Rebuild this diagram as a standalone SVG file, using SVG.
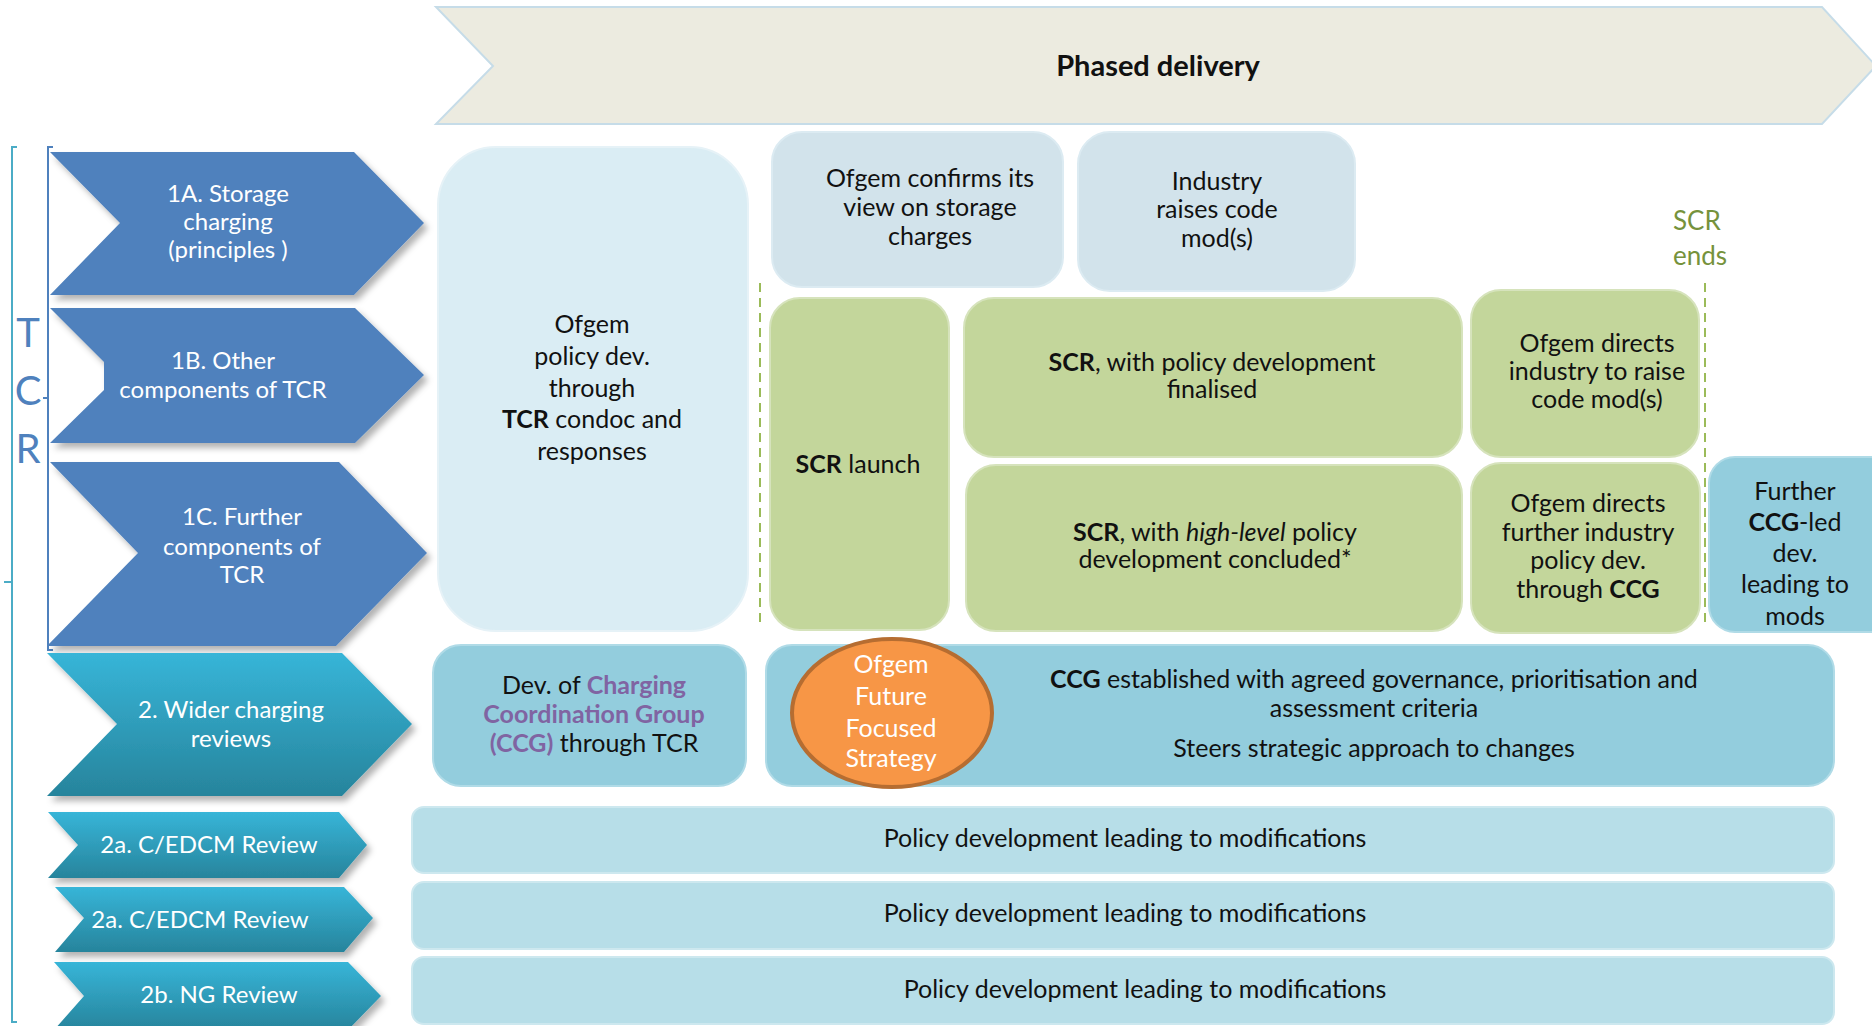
<svg xmlns="http://www.w3.org/2000/svg" width="1872" height="1026" viewBox="0 0 1872 1026">
  <defs>
    <linearGradient id="tealGrad" x1="0" y1="0" x2="0" y2="1">
      <stop offset="0" stop-color="#37b5d8"/>
      <stop offset="1" stop-color="#27849c"/>
    </linearGradient>
    <filter id="shadow" x="-10%" y="-10%" width="125%" height="130%">
      <feDropShadow dx="4" dy="5" stdDeviation="3" flood-color="#000" flood-opacity="0.3"/>
    </filter>
    <style>
      text { font-family: Lato, "Open Sans", "Liberation Sans", sans-serif; font-size: 25px; fill: #111; }
      .c { text-anchor: middle; }
      .w { fill: #ffffff; }
      .cw { font-size: 24px; }
      .b { font-weight: bold; }
      .i { font-style: italic; }
      .purple { fill: #8064a2; font-weight: bold; }
      .blue { fill: #4f81bd; }
      .chev-blue { fill: #4f81bd; filter: url(#shadow); }
      .chev-teal { fill: url(#tealGrad); filter: url(#shadow); }
      .pale { fill: #daedf4; stroke: #e6f2f7; stroke-width: 2; }
      .steel { fill: #d2e3eb; stroke: #dcebf2; stroke-width: 2; }
      .green { fill: #c3d69b; stroke: #d6e3bc; stroke-width: 2; }
      .aqua { fill: #93cddd; stroke: #b0dbe7; stroke-width: 2; }
      .row { fill: #b7dee8; stroke: #cde8ef; stroke-width: 2; }
      .dash { stroke: #9bbb59; stroke-width: 2; stroke-dasharray: 9 6; fill: none; }
    </style>
  </defs>

  <rect width="1872" height="1026" fill="#ffffff"/>

  <!-- timeline banner -->
  <g id="phased-delivery">
    <polygon points="436,7 1822,7 1876,66 1822,124 436,124 493,66" fill="#ecebe0" stroke="#c6dce8" stroke-width="2"/>
    <text class="c b" x="1158" y="76" style="font-size:29px">Phased delivery</text>
  </g>

  <!-- side brackets -->
  <g id="brackets" fill="none">
    <path d="M17,147 H12 V1022 H17 M12,582 H4" stroke="#4bacc6" stroke-width="2"/>
    <path d="M53,147 H48 V650 H53 M48,398 H43" stroke="#4f81bd" stroke-width="2"/>
    <text class="c blue" x="28" y="347" style="font-size:40px">T</text>
    <text class="c blue" x="28" y="405" style="font-size:40px">C</text>
    <text class="c blue" x="28" y="463" style="font-size:40px">R</text>
  </g>

  <!-- workstream chevrons -->
  <g id="chevron-1a">
    <polygon class="chev-blue" points="50,152 354,152 424,223 354,295 50,295 120,223"/>
    <text class="c w cw"><tspan x="228" y="202">1A. Storage</tspan><tspan x="228" y="230">charging</tspan><tspan x="228" y="258">(principles )</tspan></text>
  </g>
  <g id="chevron-1b">
    <polygon class="chev-blue" points="50,308 355,308 424,375 355,443 50,443 104,390 104,362"/>
    <text class="c w cw"><tspan x="223" y="369">1B. Other</tspan><tspan x="223" y="398">components of TCR</tspan></text>
  </g>
  <g id="chevron-1c">
    <polygon class="chev-blue" points="50,462 339,462 427,553 336,646 47,646 138,553"/>
    <text class="c w cw"><tspan x="242" y="525">1C. Further</tspan><tspan x="242" y="555">components of</tspan><tspan x="242" y="583">TCR</tspan></text>
  </g>
  <g id="chevron-2">
    <polygon class="chev-teal" points="47,653 342,653 412,724 342,796 47,796 117,724"/>
    <text class="c w cw"><tspan x="231" y="718">2. Wider charging</tspan><tspan x="231" y="747">reviews</tspan></text>
  </g>
  <g id="chevron-2a">
    <polygon class="chev-teal" points="48,812 339,812 367,845 339,878 48,878 78,845"/>
    <text class="c w cw" x="209" y="853">2a. C/EDCM Review</text>
  </g>
  <g id="chevron-2a-second">
    <polygon class="chev-teal" points="55,887 344,887 373,918 344,952 55,952 84,918"/>
    <text class="c w cw" x="200" y="928">2a. C/EDCM Review</text>
  </g>
  <g id="chevron-2b">
    <polygon class="chev-teal" points="54,962 348,962 381,996 348,1030 54,1030 84,996"/>
    <text class="c w cw" x="219" y="1003">2b. NG Review</text>
  </g>

  <!-- phase markers -->
  <g id="connectors">
    <line class="dash" x1="760" y1="283" x2="760" y2="628"/>
    <line class="dash" x1="1705" y1="283" x2="1705" y2="628"/>
  </g>

  <g id="scr-ends">
    <text x="1673" y="230" style="fill:#76923c;font-size:26px">SCR</text>
    <text x="1673" y="265" style="fill:#76923c;font-size:26px">ends</text>
  </g>

  <!-- TCR stage boxes -->
  <g id="ofgem-policy-dev">
    <rect class="pale" x="438" y="147" width="310" height="484" rx="58"/>
    <text class="c"><tspan x="592" y="333">Ofgem</tspan><tspan x="592" y="365">policy dev.</tspan><tspan x="592" y="397">through</tspan><tspan x="592" y="428"><tspan class="b">TCR</tspan> condoc and</tspan><tspan x="592" y="460">responses</tspan></text>
  </g>
  <g id="ofgem-confirms">
    <rect class="steel" x="772" y="132" width="291" height="155" rx="30"/>
    <text class="c"><tspan x="930" y="187">Ofgem confirms its</tspan><tspan x="930" y="216">view on storage</tspan><tspan x="930" y="245">charges</tspan></text>
  </g>
  <g id="industry-raises">
    <rect class="steel" x="1078" y="132" width="277" height="159" rx="32"/>
    <text class="c"><tspan x="1217" y="190">Industry</tspan><tspan x="1217" y="218">raises code</tspan><tspan x="1217" y="247">mod(s)</tspan></text>
  </g>
  <g id="scr-launch">
    <rect class="green" x="770" y="298" width="179" height="332" rx="30"/>
    <text class="c" x="858" y="473"><tspan class="b">SCR</tspan> launch</text>
  </g>
  <g id="scr-finalised">
    <rect class="green" x="964" y="298" width="498" height="159" rx="30"/>
    <text class="c"><tspan x="1212" y="371"><tspan class="b">SCR</tspan>, with policy development</tspan><tspan x="1212" y="398">finalised</tspan></text>
  </g>
  <g id="scr-high-level">
    <rect class="green" x="966" y="465" width="496" height="166" rx="30"/>
    <text class="c"><tspan x="1215" y="541"><tspan class="b">SCR</tspan>, with <tspan class="i">high-level</tspan> policy</tspan><tspan x="1215" y="568">development concluded*</tspan></text>
  </g>
  <g id="ofgem-directs-mods">
    <rect class="green" x="1471" y="290" width="228" height="167" rx="30"/>
    <text class="c"><tspan x="1597" y="352">Ofgem directs</tspan><tspan x="1597" y="380">industry to raise</tspan><tspan x="1597" y="408">code mod(s)</tspan></text>
  </g>
  <g id="ofgem-directs-ccg">
    <rect class="green" x="1471" y="463" width="229" height="170" rx="30"/>
    <text class="c"><tspan x="1588" y="512">Ofgem directs</tspan><tspan x="1588" y="541">further industry</tspan><tspan x="1588" y="569">policy dev.</tspan><tspan x="1588" y="598">through <tspan class="b">CCG</tspan></tspan></text>
  </g>
  <g id="further-ccg">
    <rect class="aqua" x="1709" y="457" width="190" height="175" rx="26"/>
    <text class="c"><tspan x="1795" y="500">Further</tspan><tspan x="1795" y="531"><tspan class="b">CCG</tspan>-led</tspan><tspan x="1795" y="562">dev.</tspan><tspan x="1795" y="593">leading to</tspan><tspan x="1795" y="625">mods</tspan></text>
  </g>

  <!-- wider charging review boxes -->
  <g id="dev-of-ccg">
    <rect class="aqua" x="433" y="645" width="313" height="141" rx="28"/>
    <text class="c"><tspan x="594" y="694">Dev. of <tspan class="purple">Charging</tspan></tspan><tspan x="594" y="723" class="purple">Coordination Group</tspan><tspan x="594" y="752"><tspan class="purple">(CCG)</tspan> through TCR</tspan></text>
  </g>
  <g id="ccg-established">
    <rect class="aqua" x="766" y="645" width="1068" height="141" rx="26"/>
    <text class="c"><tspan x="1374" y="688"><tspan class="b">CCG</tspan> established with agreed governance, prioritisation and</tspan><tspan x="1374" y="717">assessment criteria</tspan><tspan x="1374" y="757">Steers strategic approach to changes</tspan></text>
  </g>
  <g id="future-focused-strategy">
    <ellipse cx="892" cy="713" rx="100" ry="74" fill="#f79646" stroke="#b66d31" stroke-width="4"/>
    <text class="c w"><tspan x="891" y="673">Ofgem</tspan><tspan x="891" y="705">Future</tspan><tspan x="891" y="737">Focused</tspan><tspan x="891" y="767">Strategy</tspan></text>
  </g>
  <g id="policy-row-2a">
    <rect class="row" x="412" y="807" width="1422" height="66" rx="12"/>
    <text class="c" x="1125" y="847">Policy development leading to modifications</text>
  </g>
  <g id="policy-row-2a-second">
    <rect class="row" x="412" y="882" width="1422" height="67" rx="12"/>
    <text class="c" x="1125" y="922">Policy development leading to modifications</text>
  </g>
  <g id="policy-row-2b">
    <rect class="row" x="412" y="957" width="1422" height="67" rx="12"/>
    <text class="c" x="1145" y="998">Policy development leading to modifications</text>
  </g>
</svg>
